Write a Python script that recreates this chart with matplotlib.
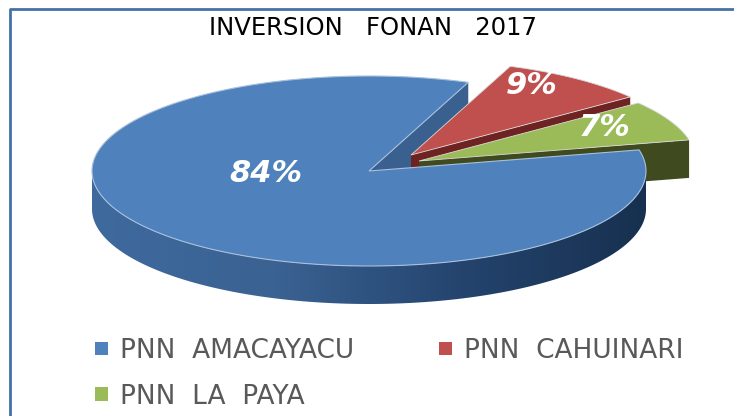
import numpy as np
import matplotlib.pyplot as plt
from matplotlib.colors import LinearSegmentedColormap
from matplotlib.patches import Patch, Polygon

title = 'INVERSION   FONAN   2017'
names = ['PNN  CAHUINARI', 'PNN  LA  PAYA', 'PNN  AMACAYACU']
values = [8.7, 6.9, 84.4]
colors = ['#c0504d', '#9bbb59', '#4f81bd']
dark = ['#6e2322', '#3f4a1e', '#3a6090']

cx, cy, rx, ry = 369, 171, 277, 95
depth = 38
offsets = [(42, -16), (50, -10), (0, 0)]
start = 69

fig = plt.figure(figsize=(7.34, 4.16), dpi=100)
ax = fig.add_axes([0, 0, 1, 1])
ax.set_xlim(0, 734)
ax.set_ylim(416, 0)
ax.axis('off')

# frame, only left and top show in the picture
ax.plot([10, 10, 734], [416, 9, 9], color='#4472a8', lw=2)


def wedge(a0, a1, off):
    t = np.radians(np.linspace(a0, a1, 200))
    return cx + off[0] + rx * np.cos(t), cy + off[1] - ry * np.sin(t)


def face(ox, oy, px, py, color, z):
    ax.add_patch(Polygon([(ox, oy), (px, py), (px, py + depth), (ox, oy + depth)],
                         fc=color, ec='none', zorder=z))


# angles run clockwise from the start angle
spans = np.array(values) / sum(values) * 360
ends = start - np.cumsum(spans)
starts = np.r_[start, ends[:-1]]

# blue cut face sits behind the red slice
bx, by = wedge(starts[2], starts[2] + 360 - spans[2], (0, 0))
face(cx, cy, bx[-1], by[-1], dark[2], 2)

# red and green: cut face then top
for i in [0, 1]:
    x, y = wedge(starts[i], ends[i], offsets[i])
    ox, oy = cx + offsets[i][0], cy + offsets[i][1]
    face(ox, oy, x[-1], y[-1], dark[i], 3 + 2 * i)
    ax.add_patch(Polygon(np.r_[[(ox, oy)], np.c_[x, y]], fc=colors[i], ec='#d9d9d9',
                         lw=0.6, zorder=4 + 2 * i))

# blue wall with the shading from left to right
t = np.radians(np.linspace(180, 360, 200))
wx = cx + rx * np.cos(t)
wy = cy - ry * np.sin(t)
wall = np.r_[np.c_[wx, wy], np.c_[wx[::-1], wy[::-1] + depth]]
grad = np.linspace(0, 1, 256).reshape(1, -1)
cmap = LinearSegmentedColormap.from_list('wall', ['#3f6a9e', '#3a6292', '#24446e', '#17304f'])
im = ax.imshow(grad, extent=(cx - rx, cx + rx, cy + ry + depth, cy - 10), cmap=cmap,
               aspect='auto', zorder=7)
clip = Polygon(wall, transform=ax.transData, fc='none', ec='none')
ax.add_patch(clip)
im.set_clip_path(clip)
ax.set_xlim(0, 734)
ax.set_ylim(416, 0)

# blue top goes over everything else
x, y = wedge(starts[2], ends[2], offsets[2])
ax.add_patch(Polygon(np.r_[[(cx, cy)], np.c_[x, y]], fc=colors[2], ec='#a9c0dc',
                     lw=0.8, zorder=8))

ax.text(373, 28, title, ha='center', va='center', fontsize=17.5, color='black',
        family='DejaVu Sans', zorder=10)

label_pos = [(532, 85), (604, 127), (266, 173)]
for v, p in zip(values, label_pos):
    ax.text(p[0], p[1], '%.0f%%' % v, ha='center', va='center', color='white', fontsize=22,
            fontweight='bold', style='italic', family='DejaVu Sans', zorder=10)

# column filling puts blue and green on the left, red on the right
order = [2, 1, 0]
handles = [Patch(fc=colors[i], ec='none', label=names[i]) for i in order]
ax.legend(handles=handles, ncols=2, frameon=False, loc='upper left',
          bbox_to_anchor=(95 / 734, 1 - 338 / 416), fontsize=19, labelcolor='#595959',
          handlelength=0.5, handleheight=0.42, handletextpad=0.45, labelspacing=0.74,
          columnspacing=3.2, borderpad=0, borderaxespad=0)

fig.savefig('out.png', dpi=100)
